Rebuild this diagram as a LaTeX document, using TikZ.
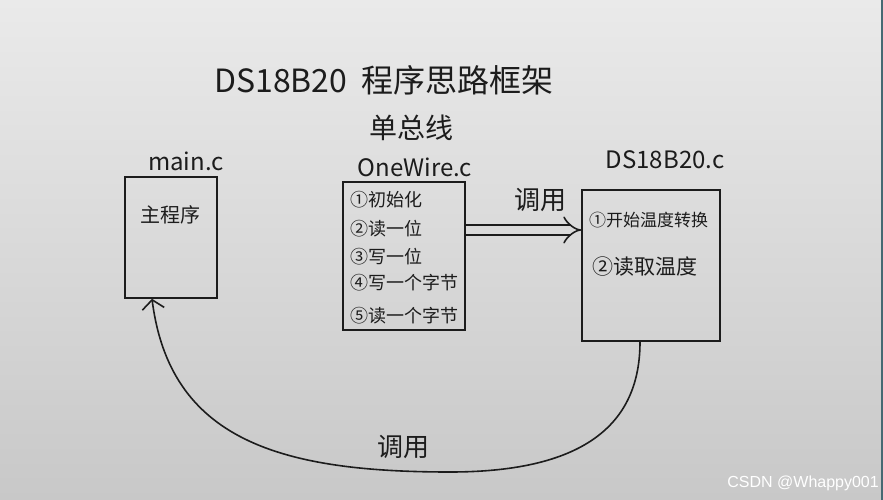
\documentclass[tikz,border=0pt]{standalone}
\usepackage{fontspec}
\setmainfont{Liberation Sans}
\newfontfamily\cjk{Noto Sans CJK SC}
\usetikzlibrary{arrows.meta}
\definecolor{ink}{RGB}{28,28,28}
\definecolor{paper}{RGB}{218,218,218}
\definecolor{rim}{RGB}{70,105,115}

\begin{document}
\begin{tikzpicture}[x=1pt, y=-1pt, every node/.style={inner sep=0pt, text=ink}, box/.style={draw=ink, line width=1.6pt, rectangle}, item/.style={anchor=west, font=\cjk\fontsize{18}{18}\selectfont}, hand/.style={font=\cjk\fontsize{#1}{#1}\selectfont}, link/.style={draw=ink, line width=1.6pt}]
			\shade[top color={rgb,255:red,234;green,234;blue,234}, bottom color={rgb,255:red,200;green,200;blue,200}] (0,0) rectangle (883,500);
			\useasboundingbox (0,0) rectangle (883,500);
			\draw[rim, line width=1.5pt] (882,0) -- (882,500);
			
			\node[hand=32] (title) at (384,80) {DS18B20\ \ 程序思路框架};
			
			\node[box, minimum width=92, minimum height=121] (main) at (171,237.5) {};
			\node[hand=24] (mainname) at (186,161) {main.c};
			\node[hand=20] (maintext) at (170,215) {主程序};
			
			\node[box, minimum width=122, minimum height=148] (ow) at (404,256) {};
			\node[hand=28] (bus) at (411,128) {单总线};
			\node[hand=24] (owname) at (415,167) {OneWire.c};
			\node[item] (ow1) at (350,200) {①初始化};
			\node[item] (ow2) at (350,229) {②读一位};
			\node[item] (ow3) at (350,257) {③写一位};
			\node[item] (ow4) at (350,283) {④写一个字节};
			\node[item] (ow5) at (350,316) {⑤读一个字节};
			
			\node[box, minimum width=138, minimum height=151] (ds) at (651,265.5) {};
			\node[hand=24] (dsname) at (665,160) {DS18B20.c};
			\node[item, font=\cjk\fontsize{17}{17}\selectfont] (ds1) at (589,220) {①开始温度转换};
			\node[item, font=\cjk\fontsize{21}{21}\selectfont] (ds2) at (592,267) {②读取温度};
			
			\node[hand=26] (call1) at (540,200) {调用};
			\node[hand=26] (call2) at (403,447) {调用};
			
			\draw[link, double=paper, double distance=8pt, -{Implies}] ([yshift=26pt]ow.east) -- ([yshift=35.5pt]ds.west);
			\draw[link, -{Straight Barb[length=9pt, width=22pt]}] ([xshift=-11pt]ds.south) .. controls (640,420) and (590,472) .. (450,472) .. controls (280,472) and (170,440) .. ([xshift=-19pt]main.south);
			
			\node[text=white, font=\fontsize{16}{16}\selectfont, anchor=east] (mark) at (879,483) {CSDN @Whappy001};
\end{tikzpicture}
\end{document}
